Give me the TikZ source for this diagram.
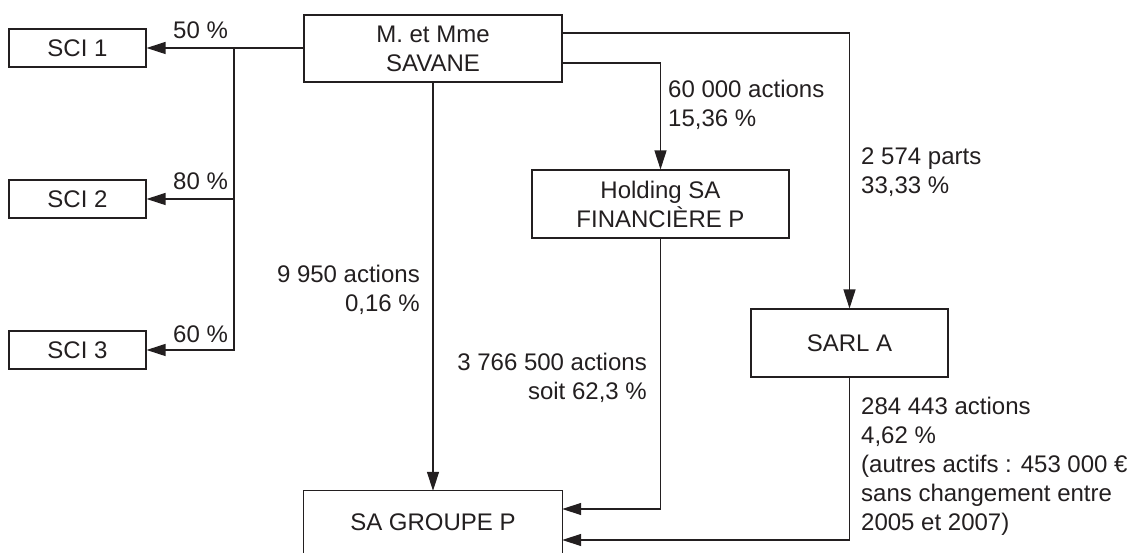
\documentclass[tikz,border=0pt]{standalone}
\usepackage{fontspec}
\setmainfont{Liberation Sans}
\usetikzlibrary{arrows.meta}
\definecolor{ink}{HTML}{231F20}
\begin{document}
\begin{tikzpicture}[x=1pt,y=1pt,
  every node/.style={font=\fontsize{24}{29}\selectfont, text=ink},
  box/.style={draw=ink, line width=1.1pt, inner sep=0pt, align=center},
  lab/.style={inner sep=0pt},
  conn/.style={draw=ink, line width=1.2pt},
  arr/.style={conn, -{Triangle[length=19pt,width=12pt]}}]
\clip (0,0) rectangle (1129,553);
\fill[white] (0,0) rectangle (1129,553);
% boxes
\node[box, minimum width=258pt, minimum height=67pt] (sav) at (433,504.5) {M. et Mme\\SAVANE};
\node[box, minimum width=137pt, minimum height=38pt] (sci1) at (77.5,505) {SCI 1};
\node[box, minimum width=137pt, minimum height=38pt] (sci2) at (77.5,354) {SCI 2};
\node[box, minimum width=137pt, minimum height=38pt] (sci3) at (77.5,203) {SCI 3};
\node[box, minimum width=257pt, minimum height=68pt] (hold) at (660.5,349) {Holding SA\\FINANCIÈRE P};
\node[box, minimum width=197pt, minimum height=68pt] (sarl) at (849.5,210) {SARL A};
\node[inner sep=0pt, minimum width=258pt, minimum height=62pt] (sag) at (433,31) {SA GROUPE P};
\draw[draw=ink, line width=1.1pt] (sag.south west) |- (sag.north east) -- (sag.south east);
% connectors
\coordinate (j) at (234,505);
\draw[arr] (sav.west |- sci1) -- (sci1.east);
\draw[arr] (j) |- (sci2.east);
\draw[arr] (j) |- (sci3.east);
\draw[arr] ([yshift=15.5pt]sav.east) -| (sarl.north);
\draw[arr] ([yshift=-14.5pt]sav.east) -| (hold.north);
\draw[arr] (sav.south) -- (sag.north);
\draw[arr] (hold.south) |- ([yshift=13pt]sag.east);
\draw[arr] (sarl.south) |- ([yshift=-18pt]sag.east);
% labels
\node[lab, anchor=north west] (l50) at (173,531) {50 \%};
\node[lab, anchor=north west] (l80) at (173,380) {80 \%};
\node[lab, anchor=north west] (l60) at (173,227) {60 \%};
\node[lab, anchor=north west, align=left] (lhold) at (668,473) {60 000 actions\\15,36 \%};
\node[lab, anchor=north west, align=left] (lsarl) at (861,405) {2 574 parts\\33,33 \%};
\node[lab, anchor=north east, align=right] (lsav) at (420,288) {9 950 actions\\0,16 \%};
\node[lab, anchor=north east, align=right] (lhsag) at (647,200) {3 766 500 actions\\soit 62,3 \%};
\node[lab, anchor=north west, align=left] (lsarlsag) at (861,156) {284 443 actions\\4,62 \%\\(autres actifs : 453 000 €\\sans changement entre\\2005 et 2007)};
\end{tikzpicture}
\end{document}
